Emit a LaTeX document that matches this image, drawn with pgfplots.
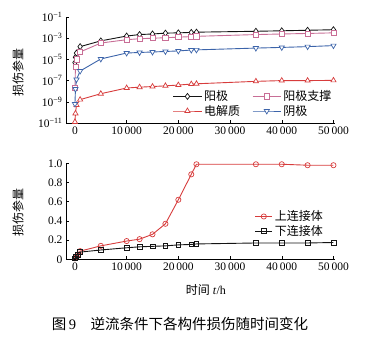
\documentclass[border=0pt]{standalone}
\usepackage{fontspec}
\setmainfont{Liberation Serif}
\newfontfamily\cjk{Noto Sans CJK SC}
\usepackage{pgfplots}
\pgfplotsset{compat=1.18}
\definecolor{cblack}{RGB}{20,20,20}
\definecolor{cpink}{RGB}{200,110,150}
\definecolor{cred}{RGB}{215,60,60}
\definecolor{cblue}{RGB}{60,100,170}
\begin{document}
\begin{tikzpicture}
\path[use as bounding box] (0pt,0pt) rectangle (372pt,340pt);
\pgfplotsset{every axis/.append style={
  scale only axis, axis lines=left, axis line style={-, black, line width=0.6pt},
  tick align=inside, major tick length=3pt, tick style={black, line width=0.5pt},
  xmin=-1730, xmax=50300, xtick={0,10000,20000,30000,40000,50000},
  /pgf/number format/assume math mode=true,
  /pgf/number format/1000 sep={\,},
  scaled x ticks=false,
  tick label style={font=\fontsize{11.5}{13}\selectfont},
  label style={font=\fontsize{12}{14}\selectfont},
  legend style={draw=none, fill=none, font=\fontsize{12}{14}\selectfont},
  legend cell align=left,
  every axis plot/.append style={line width=0.9pt, mark size=2.6pt, mark options={solid, fill=white, line width=0.7pt}},
}}
\begin{axis}[at={(66pt,217pt)}, anchor=south west, width=269pt, height=106pt,
  ymode=log, ymin=1e-11, ymax=1e-1,
  ytick={1e-11,1e-9,1e-7,1e-5,1e-3,1e-1},
  yticklabels={10\textsuperscript{−11},10\textsuperscript{−9},10\textsuperscript{−7},10\textsuperscript{−5},10\textsuperscript{−3},10\textsuperscript{−1}},
  yminorticks=false,
  ylabel={\cjk 损伤参量}, ylabel style={at={(axis description cs:-0.178,0.48)}, anchor=center},
  legend columns=2,
  legend image code/.code={\draw[mark repeat=2,mark phase=2] plot coordinates {(0cm,0cm) (0.5cm,0cm) (1cm,0cm)};},
  legend style={at={(0.385,0.345)}, anchor=north west, row sep=-1pt, /tikz/every even column/.append style={column sep=10pt}},
]
\addplot[color=cblack, mark=diamond*, mark size=3pt] coordinates {
(0,5.0e-6) (100,1.6e-5) (300,4.0e-5) (1000,1.6e-4) (5000,5.6e-4) (10000,1.6e-3)
(12500,2.2e-3) (15000,2.5e-3) (17500,3.0e-3) (20000,3.2e-3) (22500,3.5e-3) (23500,3.7e-3)
(35000,4.5e-3) (40000,5.0e-3) (45000,5.6e-3) (50000,6.3e-3)};
\addlegendentry{\cjk 阳极}
\addplot[color=cpink, mark=square*] coordinates {
(0,2.0e-8) (100,2.0e-6) (300,1.0e-5) (1000,5.0e-5) (5000,3.5e-4) (10000,7.2e-4)
(12500,8.9e-4) (15000,1.0e-3) (17500,1.1e-3) (20000,1.26e-3) (22500,1.4e-3) (23500,1.5e-3)
(35000,2.2e-3) (40000,2.5e-3) (45000,2.8e-3) (50000,3.2e-3)};
\addlegendentry{\cjk 阳极支撑}
\addplot[color=cred, mark=triangle*, mark size=3pt] coordinates {
(0,1.26e-11) (100,8.0e-11) (300,5.0e-10) (1000,1.6e-9) (5000,5.8e-9) (10000,2.0e-8)
(12500,2.4e-8) (15000,2.75e-8) (17500,3.2e-8) (20000,3.8e-8) (22500,4.7e-8) (23500,5.0e-8)
(35000,8.5e-8) (40000,1.0e-7) (45000,1.0e-7) (50000,1.05e-7)};
\addlegendentry{\cjk 电解质}
\addplot[color=cblue, mark=triangle*, mark options={rotate=180, solid, fill=white, line width=0.7pt}, mark size=3pt] coordinates {
(0,6.3e-10) (100,1.6e-8) (300,1.26e-7) (1000,8.0e-7) (5000,1.1e-5) (10000,4.0e-5)
(12500,4.5e-5) (15000,5.0e-5) (17500,5.6e-5) (20000,6.3e-5) (22500,7.6e-5) (23500,7.9e-5)
(35000,1.17e-4) (40000,1.35e-4) (45000,1.6e-4) (50000,2.0e-4)};
\addlegendentry{\cjk 阴极}
\end{axis}
\begin{axis}[at={(66pt,80.7pt)}, anchor=south west, width=269pt, height=96pt,
  ymin=0, ymax=1, ytick={0,0.2,0.4,0.6,0.8,1.0},
  yticklabels={0,0.2,0.4,0.6,0.8,1.0},
  ylabel={\cjk 损伤参量}, ylabel style={at={(axis description cs:-0.178,0.49)}, anchor=center},
  xlabel={{\cjk 时间} \textit{t}/h}, xlabel style={at={(axis description cs:0.52,-0.32)}, anchor=center},
  legend style={at={(0.69,0.55)}, anchor=north west, row sep=-1pt},
]
\addplot[color=cred, mark=o, mark size=2.6pt] coordinates {
(0,0.01) (300,0.03) (600,0.05) (1000,0.085) (5000,0.14) (10000,0.19) (12500,0.21)
(15000,0.26) (17500,0.37) (20000,0.62) (22500,0.885) (23500,0.99) (35000,0.99)
(40000,0.99) (45000,0.98) (50000,0.98)};
\addlegendentry{\cjk 上连接体}
\addplot[color=cblack, mark=square, mark size=2.4pt] coordinates {
(0,0.01) (200,0.03) (500,0.05) (1000,0.075) (5000,0.097) (10000,0.12) (12500,0.13)
(15000,0.135) (17500,0.14) (20000,0.15) (22500,0.155) (23500,0.16) (35000,0.17)
(40000,0.17) (45000,0.17) (50000,0.175)};
\addlegendentry{\cjk 下连接体}
\end{axis}
\node[font=\fontsize{14.5}{16}\selectfont] at (180pt,16pt) {{\cjk 图}\,9\quad{\cjk 逆流条件下各构件损伤随时间变化}};
\end{tikzpicture}
\end{document}
